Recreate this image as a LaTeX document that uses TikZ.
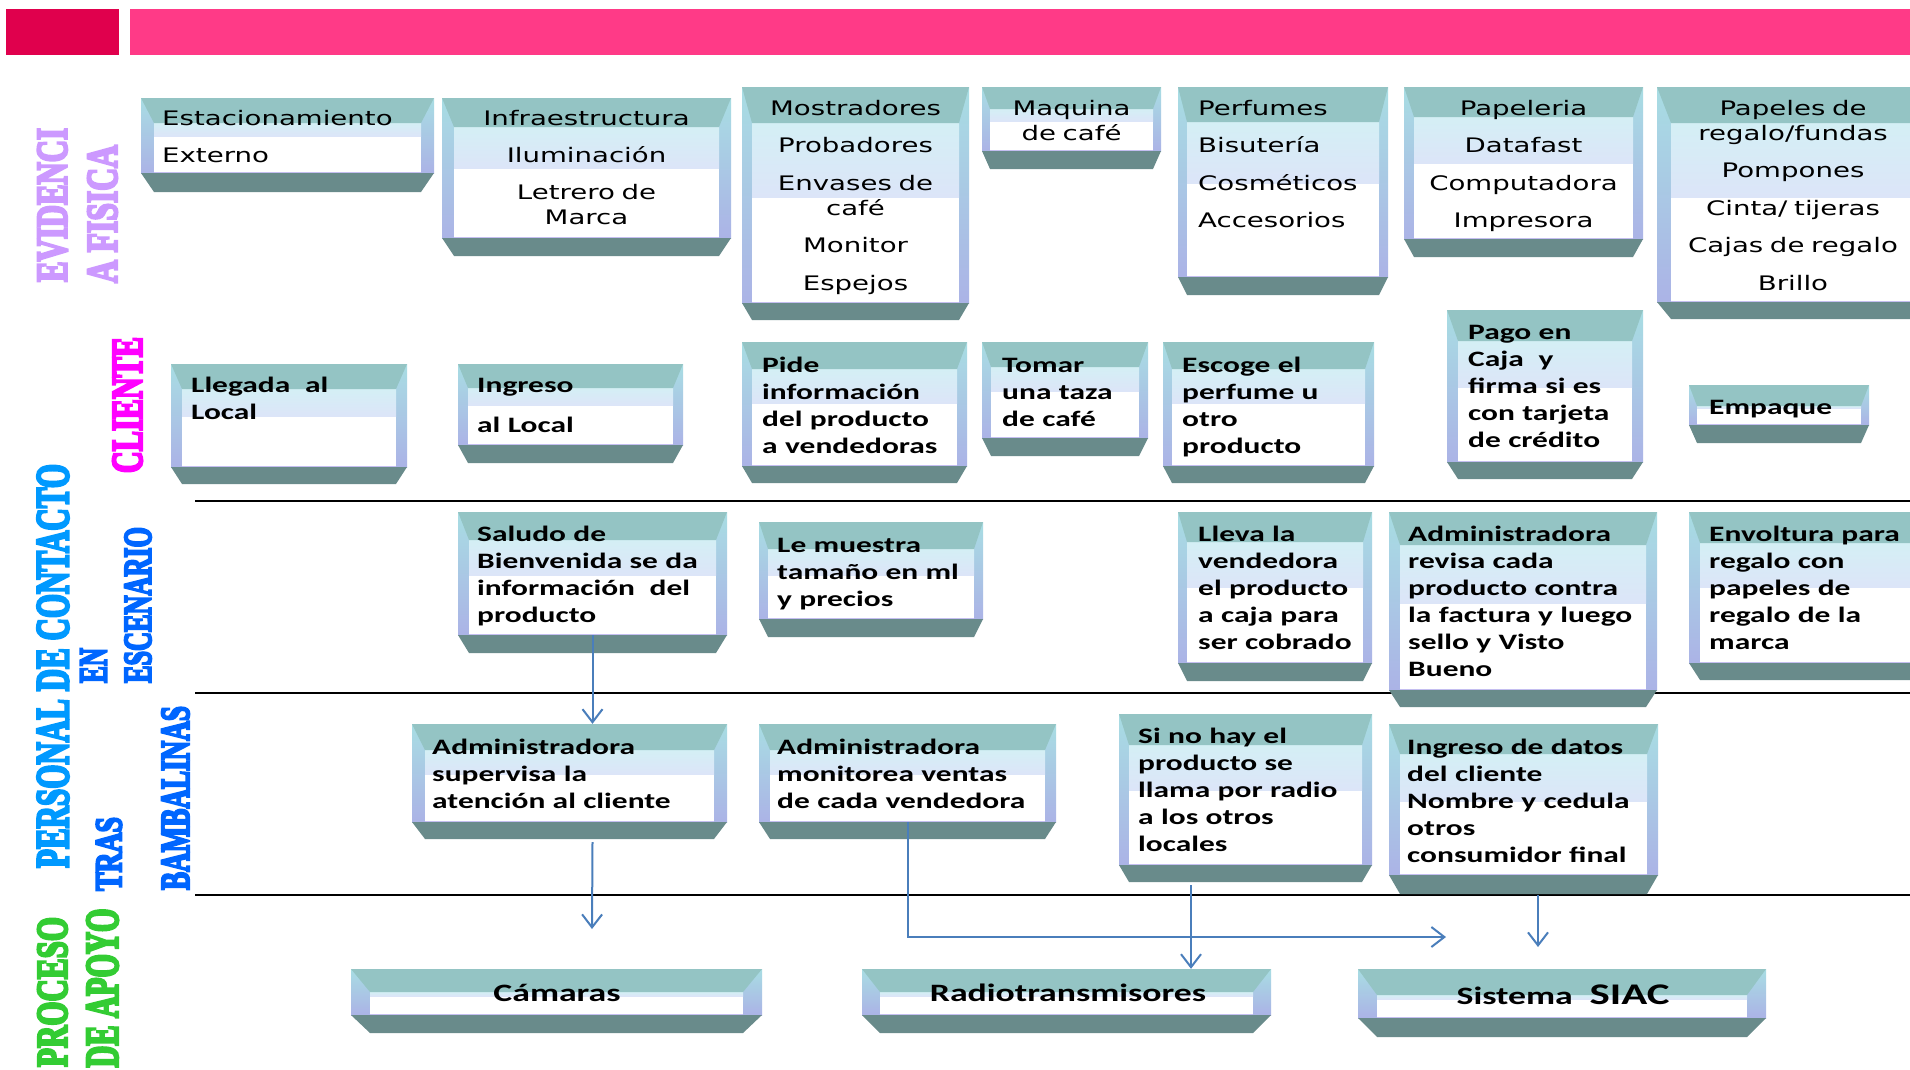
\documentclass[tikz,border=0pt]{standalone}
\usepackage{fontspec}
\usepackage{graphicx}
\usetikzlibrary{fit,calc,arrows.meta}
\newfontfamily\vfont{DejaVu Sans}[FakeStretch=1.38]
\newfontfamily\cfont{Carlito}[FakeStretch=1.43]
\newfontfamily\sfont{Liberation Serif}[FakeBold=6]
\definecolor{crim}{HTML}{E0004D}
\definecolor{pinkbar}{HTML}{FF3A87}
\definecolor{tband}{HTML}{94C4C4}
\definecolor{bband}{HTML}{698B8B}
\definecolor{sidetop}{HTML}{A8DDE3}
\definecolor{sidebot}{HTML}{ABB3E6}
\definecolor{lighttop}{HTML}{D4EFF5}
\definecolor{lightbot}{HTML}{DCE5F8}
\definecolor{lavline}{HTML}{C4BEF0}
\definecolor{arrblue}{HTML}{4A7EBB}
\definecolor{evcol}{HTML}{CC99FF}
\definecolor{clcol}{HTML}{FF00FF}
\definecolor{pccol}{HTML}{0099FF}
\definecolor{escol}{HTML}{0066FF}
\definecolor{pacol}{HTML}{33CC33}
% #1 bevel, #2 name, #3 x1, #4 x2, #5 y1, #6 top band bottom, #7 light end, #8 inner bottom, #9 y2
\newcommand\bevbox[9][11]{%
  \def\bd{#1}%
  \fill[top color=sidetop,bottom color=sidebot] (#3,#5) rectangle (#4,#8);
  \fill[white] ({#3+\bd},#6) rectangle ({#4-\bd},#8);
  \fill[top color=lighttop,bottom color=lightbot] ({#3+\bd},#6) rectangle ({#4-\bd},#7);
  \fill[tband] (#3,#5) -- (#4,#5) -- ({#4-\bd},#6) -- ({#3+\bd},#6) -- cycle;
  \draw[lavline,line width=1.5pt] ({#3+\bd},#8) -- ({#4-\bd},#8);
  \fill[bband] (#3,#8) -- (#4,#8) -- ({#4-\bd},#9) -- ({#3+\bd},#9) -- cycle;
  \node[fit={(#3,#5) (#4,#9)},inner sep=0pt] (#2) {};
}
\tikzset{
  ctr/.style={inner sep=0pt,text width=300pt,align=center,anchor=base},
  lft/.style={inner sep=0pt,text width=330pt,align=left,anchor=base west},
  vf/.style={font=\vfont\fontsize{20}{25}\selectfont},
  cf/.style={font=\cfont\bfseries\fontsize{22}{27}\selectfont},
  cfb/.style={font=\cfont\bfseries\fontsize{25}{30}\selectfont},
  lab/.style={inner sep=0pt,font=\sfont\bfseries},
  arr/.style={draw=arrblue,line width=2pt,-{Straight Barb[length=13pt,width=20pt]}},
  rule/.style={draw=black,line width=2pt}
}
\begin{document}
\begin{tikzpicture}[x=1pt,y=-1pt]
\path[use as bounding box] (0,0) rectangle (1910,1069);
\clip (0,0) rectangle (1910,1069);
\fill[white] (0,0) rectangle (1910,1069);
% header bars
\fill[crim] (6,9) rectangle (119,55);
\fill[pinkbar] (130,9) rectangle (1910,55);
% swimlane rules
\coordinate (r1a) at (195,501); \coordinate (r1b) at (1910,501);
\coordinate (r2a) at (195,693); \coordinate (r2b) at (1910,693);
\coordinate (r3a) at (195,895); \coordinate (r3b) at (1910,895);
\draw[rule] (r1a) -- (r1b);
\draw[rule] (r2a) -- (r2b);
\draw[rule] (r3a) -- (r3b);
% side labels
\node[lab,text=evcol] (l-ev1) at (52.5,205) {\rotatebox{90}{\resizebox{154pt}{29pt}{EVIDENCI}}};
\node[lab,text=evcol] (l-ev2) at (102.5,214) {\rotatebox{90}{\resizebox{138pt}{29pt}{A FISICA}}};
\node[lab,text=clcol] (l-cli) at (127.5,405) {\rotatebox{90}{\resizebox{136pt}{29pt}{CLIENTE}}};
\node[lab,text=pccol] (l-pc) at (53,666) {\rotatebox{90}{\resizebox{404pt}{31pt}{PERSONAL DE CONTACTO}}};
\node[lab,text=escol] (l-en) at (93.5,665.5) {\rotatebox{90}{\resizebox{35pt}{26pt}{EN}}};
\node[lab,text=escol] (l-esc) at (138,605) {\rotatebox{90}{\resizebox{156pt}{26pt}{ESCENARIO}}};
\node[lab,text=escol] (l-tras) at (109,854) {\rotatebox{90}{\resizebox{74pt}{25pt}{TRAS}}};
\node[lab,text=escol] (l-bam) at (175.5,798) {\rotatebox{90}{\resizebox{184pt}{27pt}{BAMBALINAS}}};
\node[lab,text=pacol] (l-pro) at (52.5,992) {\rotatebox{90}{\resizebox{150pt}{29pt}{PROCESO}}};
\node[lab,text=pacol] (l-apo) at (102.5,988) {\rotatebox{90}{\resizebox{159pt}{31pt}{DE APOYO}}};
% row 1 boxes
\bevbox[13]{est}{141}{434}{98}{123}{136}{173}{192}
\bevbox[12]{inf}{442}{731}{98}{127}{168}{238}{256}
\bevbox[10]{mos}{742}{969}{87}{123}{197}{303}{320}
\bevbox[8]{maq}{982}{1161}{87}{109}{121}{151}{169}
\bevbox[9]{per}{1178}{1388}{87}{122}{183}{277}{295}
\bevbox[10]{pap}{1404}{1643}{87}{117}{163}{239}{257}
\bevbox[14]{reg}{1657}{1929}{87}{123}{197}{302}{319}
% row 2 boxes
\bevbox[11]{lle}{171}{407}{364}{389}{416}{467}{484}
\bevbox[10]{ing1}{458}{683}{364}{388}{405}{445}{463}
\bevbox[10]{pide}{742}{967}{342}{369}{403}{466}{483}
\bevbox[9]{tom}{982}{1148}{342}{367}{391}{438}{456}
\bevbox[9]{esc}{1163}{1374}{342}{369}{403}{466}{483}
\bevbox[11]{pago}{1447}{1643}{310}{341}{387}{462}{479}
\bevbox[8]{emp}{1689}{1869}{385}{406}{408}{425}{443}
% row 3 boxes
\bevbox[11]{sal}{458}{727}{512}{540}{575}{635}{653}
\bevbox[9]{mue}{759}{983}{522}{549}{575}{619}{637}
\bevbox[9]{llev}{1178}{1372}{512}{542}{587}{663}{681}
\bevbox[11]{rev}{1389}{1657}{512}{545}{603}{690}{707}
\bevbox[11]{env}{1689}{1930}{512}{543}{587}{663}{680}
% row 4 boxes
\bevbox[13]{sup}{412}{727}{724}{750}{774}{822}{839}
\bevbox[11]{mon}{759}{1056}{724}{750}{774}{822}{839}
\bevbox[10]{sin}{1119}{1372}{714}{745}{790}{865}{882}
\bevbox[11]{ing2}{1389}{1658}{724}{754}{801}{875}{894}
% row 5 boxes
\bevbox[19]{cam}{351}{762}{969}{992}{996}{1015}{1033}
\bevbox[18]{rad}{862}{1271}{969}{992}{996}{1015}{1033}
\bevbox[19]{siac}{1358}{1766}{969}{995}{999}{1018}{1037}
% row 1 texts
\node[vf,lft] (t-est) at (162,125) {Estacionamiento\\[12.5pt]Externo};
\node[vf,ctr] (t-inf) at (586.5,125) {Infraestructura\\[12.5pt]Iluminación\\[12pt]Letrero de\\Marca};
\node[vf,ctr] (t-mos) at (855.5,115) {Mostradores\\[12.5pt]Probadores\\[12.5pt]Envases de\\café\\[12.5pt]Monitor\\[12.5pt]Espejos};
\node[vf,ctr] (t-maq) at (1071.5,115) {Maquina\\de café};
\node[vf,lft] (t-per) at (1198,115) {Perfumes\\[12.5pt]Bisutería\\[12.5pt]Cosméticos\\[12.5pt]Accesorios};
\node[vf,ctr] (t-pap) at (1523.5,115) {Papeleria\\[12.5pt]Datafast\\[12.5pt]Computadora\\[12.5pt]Impresora};
\node[vf,ctr] (t-reg) at (1793,115) {Papeles de\\regalo/fundas\\[12.5pt]Pompones\\[12.5pt]Cinta/ tijeras\\[12.5pt]Cajas de regalo\\[12.5pt]Brillo};
% row 2 texts
\node[cf,lft] (t-lle) at (191,392) {Llegada\ \ al\\Local};
\node[cf,lft] (t-ing1) at (477,392) {Ingreso\\[13pt]al Local};
\node[cf,lft] (t-pide) at (762,372) {Pide\\información\\del producto\\a vendedoras};
\node[cf,lft] (t-tom) at (1002,372) {Tomar\\una taza\\de café};
\node[cf,lft] (t-esc) at (1182,372) {Escoge el\\perfume u\\otro\\producto};
\node[cf,lft] (t-pago) at (1468,339) {Pago en\\Caja\ \ y\\firma si es\\con tarjeta\\de crédito};
\node[cf,lft] (t-emp) at (1709,414) {Empaque};
% row 3 texts
\node[cf,lft] (t-sal) at (477,541) {Saludo de\\Bienvenida se da\\información\ \ del\\producto};
\node[cf,lft] (t-mue) at (777,552) {Le muestra\\tamaño en ml\\y precios};
\node[cf,lft] (t-llev) at (1198,541) {Lleva la\\vendedora\\el producto\\a caja para\\ser cobrado};
\node[cf,lft] (t-rev) at (1408,541) {Administradora\\revisa cada\\producto contra\\la factura y luego\\sello y Visto\\Bueno};
\node[cf,lft] (t-env) at (1709,541) {Envoltura para\\regalo con\\papeles de\\regalo de la\\marca};
% row 4 texts
\node[cf,lft] (t-sup) at (432,754) {Administradora\\supervisa la\\atención al cliente};
\node[cf,lft] (t-mon) at (777,754) {Administradora\\monitorea ventas\\de cada vendedora};
\node[cf,lft] (t-sin) at (1138,743) {Si no hay el\\producto se\\llama por radio\\a los otros\\locales};
\node[cf,lft] (t-ing2) at (1407,754) {Ingreso de datos\\del cliente\\Nombre y cedula\\otros\\consumidor final};
% row 5 texts
\node[cfb,ctr] (t-cam) at (557,1001) {Cámaras};
\node[cfb,ctr] (t-rad) at (1068,1001) {Radiotransmisores};
\node[cfb,ctr] (t-siac) at (1563,1004) {Sistema\ \ {\fontsize{30}{30}\selectfont SIAC}};
% connectors
\coordinate (camtip) at (592,929);
\coordinate (montip) at (1446,937);
\coordinate (siactip) at (1538,947);
\draw[arr] ($(sal.south)+(0,-18)$) -- (sal.south |- sup.north);
\draw[arr] ($(sal.south |- sup.south)+(0,3)$) -- (camtip);
\draw[arr] ($(mon.south)+(0,-17)$) -- (mon.south |- montip) -- (montip);
\draw[arr] ([xshift=-54.5pt,yshift=-3pt]sin.south) -- ([xshift=-54.5pt]sin.south |- rad.north);
\draw[arr] ([yshift=-1pt]siactip |- ing2.south) -- (siactip);
\end{tikzpicture}
\end{document}
